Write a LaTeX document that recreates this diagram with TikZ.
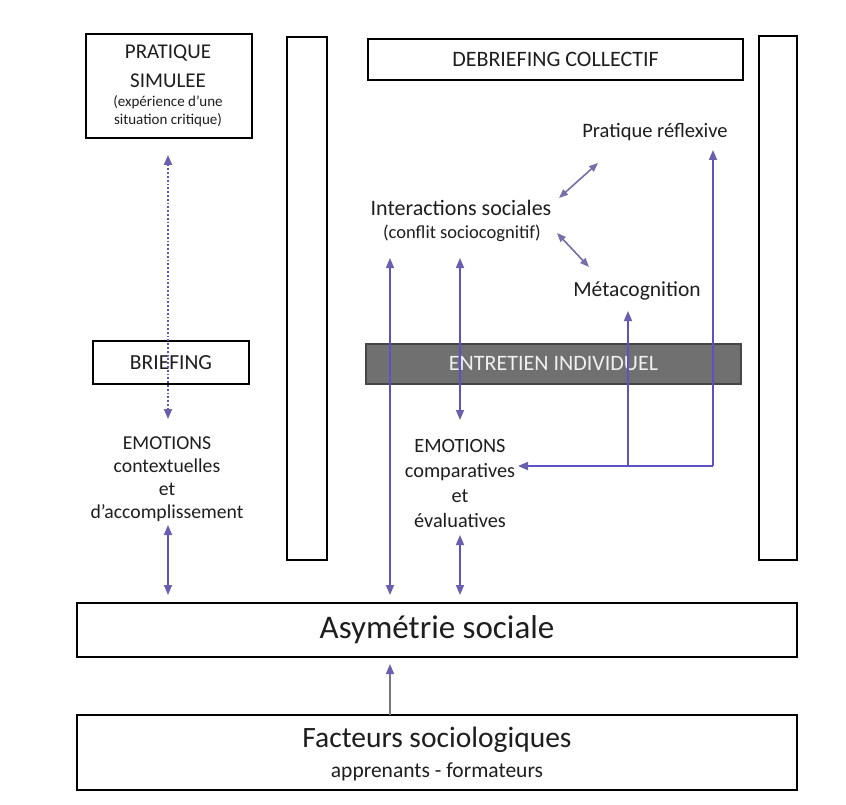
\documentclass[tikz,border=0pt]{standalone}
\usepackage{fontspec}
\setmainfont{Carlito}
\usetikzlibrary{arrows.meta}
\definecolor{linec}{RGB}{92,82,200}
\definecolor{headc}{RGB}{105,95,175}
\definecolor{diagc}{RGB}{120,110,170}
\definecolor{grayfill}{RGB}{112,112,112}
\definecolor{grayedge}{RGB}{70,70,70}
\definecolor{txt}{RGB}{30,30,30}
\tikzset{
  box/.style={draw=black, line width=2pt, inner sep=0pt, align=center, text=txt},
  lbl/.style={inner sep=0pt, align=center, text=txt},
  arr/.style={draw=linec, line width=1.6pt, -{Triangle[length=10pt,width=8pt,color=headc]}},
  dbl/.style={draw=linec, line width=1.6pt, {Triangle[length=10pt,width=8pt,color=headc]}-{Triangle[length=10pt,width=8pt,color=headc]}},
  diag/.style={draw=diagc, line width=1.6pt, {Triangle[length=9pt,width=7pt,color=diagc]}-{Triangle[length=9pt,width=7pt,color=diagc]}},
  dotarr/.style={draw=linec, line width=1.8pt, dotted, {Triangle[length=10pt,width=8pt,color=headc]}-{Triangle[length=10pt,width=8pt,color=headc]}},
}
\begin{document}
\begin{tikzpicture}[x=1pt,y=-1pt]
\useasboundingbox (0,0) rectangle (846,805);
\fill[white] (0,0) rectangle (846,805);

% boxes
\node[box, minimum width=166pt, minimum height=104pt] (pratique) at (169,86) {};
\node[lbl, font=\fontsize{21}{24}\selectfont] (prA) at (168,53) {PRATIQUE};
\node[lbl, font=\fontsize{21}{24}\selectfont] (prB) at (168,81) {SIMULEE};
\node[lbl, font=\fontsize{15}{18}\selectfont] (prC) at (168,102) {(expérience d’une};
\node[lbl, font=\fontsize{15}{18}\selectfont] (prD) at (168,120) {situation critique)};

\node[box, minimum width=40pt, minimum height=523pt] (colA) at (307,298.5) {};
\node[box, minimum width=38pt, minimum height=523pt] (colB) at (778,298) {};
\node[box, minimum width=375pt, minimum height=41pt, font=\fontsize{22}{24}\selectfont] (debrief) at (555.5,59.5) {DEBRIEFING COLLECTIF};
\node[box, minimum width=156pt, minimum height=43pt, font=\fontsize{21.5}{24}\selectfont] (briefing) at (171,362.5) {BRIEFING};
\node[box, minimum width=720pt, minimum height=54pt, font=\fontsize{33}{36}\selectfont] (asym) at (437,630) {Asymétrie sociale};
\node[box, minimum width=720pt, minimum height=75pt] (facteurs) at (437,752.5) {};
\node[lbl, font=\fontsize{29.5}{32}\selectfont] (facA) at (437,740) {Facteurs sociologiques};
\node[lbl, font=\fontsize{21.5}{24}\selectfont] (facB) at (437,772) {apprenants - formateurs};

% labels
\node[lbl, font=\fontsize{19.7}{23}\selectfont] (emoCtx) at (167,479) {EMOTIONS\\contextuelles\\et\\d’accomplissement};
\node[lbl, font=\fontsize{22}{24}\selectfont] (interact) at (461,208) {Interactions sociales};
\node[lbl, font=\fontsize{18.5}{22}\selectfont] (conflit) at (462,233) {(conflit sociocognitif)};
\node[lbl, font=\fontsize{20.5}{22}\selectfont] (reflex) at (655,132) {Pratique réflexive};
\node[lbl, font=\fontsize{21.5}{22}\selectfont] (meta) at (637,291) {Métacognition};
\node[lbl, font=\fontsize{20.3}{25}\selectfont] (emoCmp) at (460,483) {EMOTIONS\\comparatives\\et\\évaluatives};

% dotted arrow pratique <-> emotions
\coordinate (dTop) at (168,155);
\coordinate (dBot) at (168,419);
\draw[dotarr] (dTop) -- (dBot);

% coordinates for arrow ends
\coordinate (a1t) at (168,525); \coordinate (a1b) at (168,595);
\coordinate (a2t) at (390,258); \coordinate (a2b) at (390,595);
\coordinate (a3t) at (460,258); \coordinate (a3b) at (460,420);
\coordinate (a4t) at (460,535); \coordinate (a4b) at (460,595);
\coordinate (corner) at (713,466);
\coordinate (join) at (628,466);
\coordinate (emoIn) at (518,466);
\coordinate (reflexIn) at (713,150);
\coordinate (metaIn) at (628,311);
\coordinate (fTop) at (390,715);
\coordinate (fTip) at (390,664);
\coordinate (d1a) at (559,198); \coordinate (d1b) at (598,163);
\coordinate (d2a) at (557,233); \coordinate (d2b) at (589,267);

% gray band
\node[draw=grayedge, line width=1.2pt, fill=grayfill, minimum width=375pt, minimum height=40pt, inner sep=0pt,
      text=white!88!gray, font=\fontsize{22}{24}\selectfont] (entretien) at (553.5,364) {ENTRETIEN INDIVIDUEL};

\draw[dbl] (a1t) -- (a1b);
\draw[dbl] (a2t) -- (a2b);
\draw[dbl] (a3t) -- (a3b);
\draw[dbl] (a4t) -- (a4b);
\draw[arr] (corner) -- (emoIn);
\draw[arr] (corner) -- (reflexIn);
\draw[arr] (join) -- (metaIn);
\draw[draw=gray!80!linec, line width=1.2pt, -{Triangle[length=10pt,width=8pt,color=headc]}] (fTop) -- (fTip);
\draw[diag] (d1a) -- (d1b);
\draw[diag] (d2a) -- (d2b);
\end{tikzpicture}
\end{document}
